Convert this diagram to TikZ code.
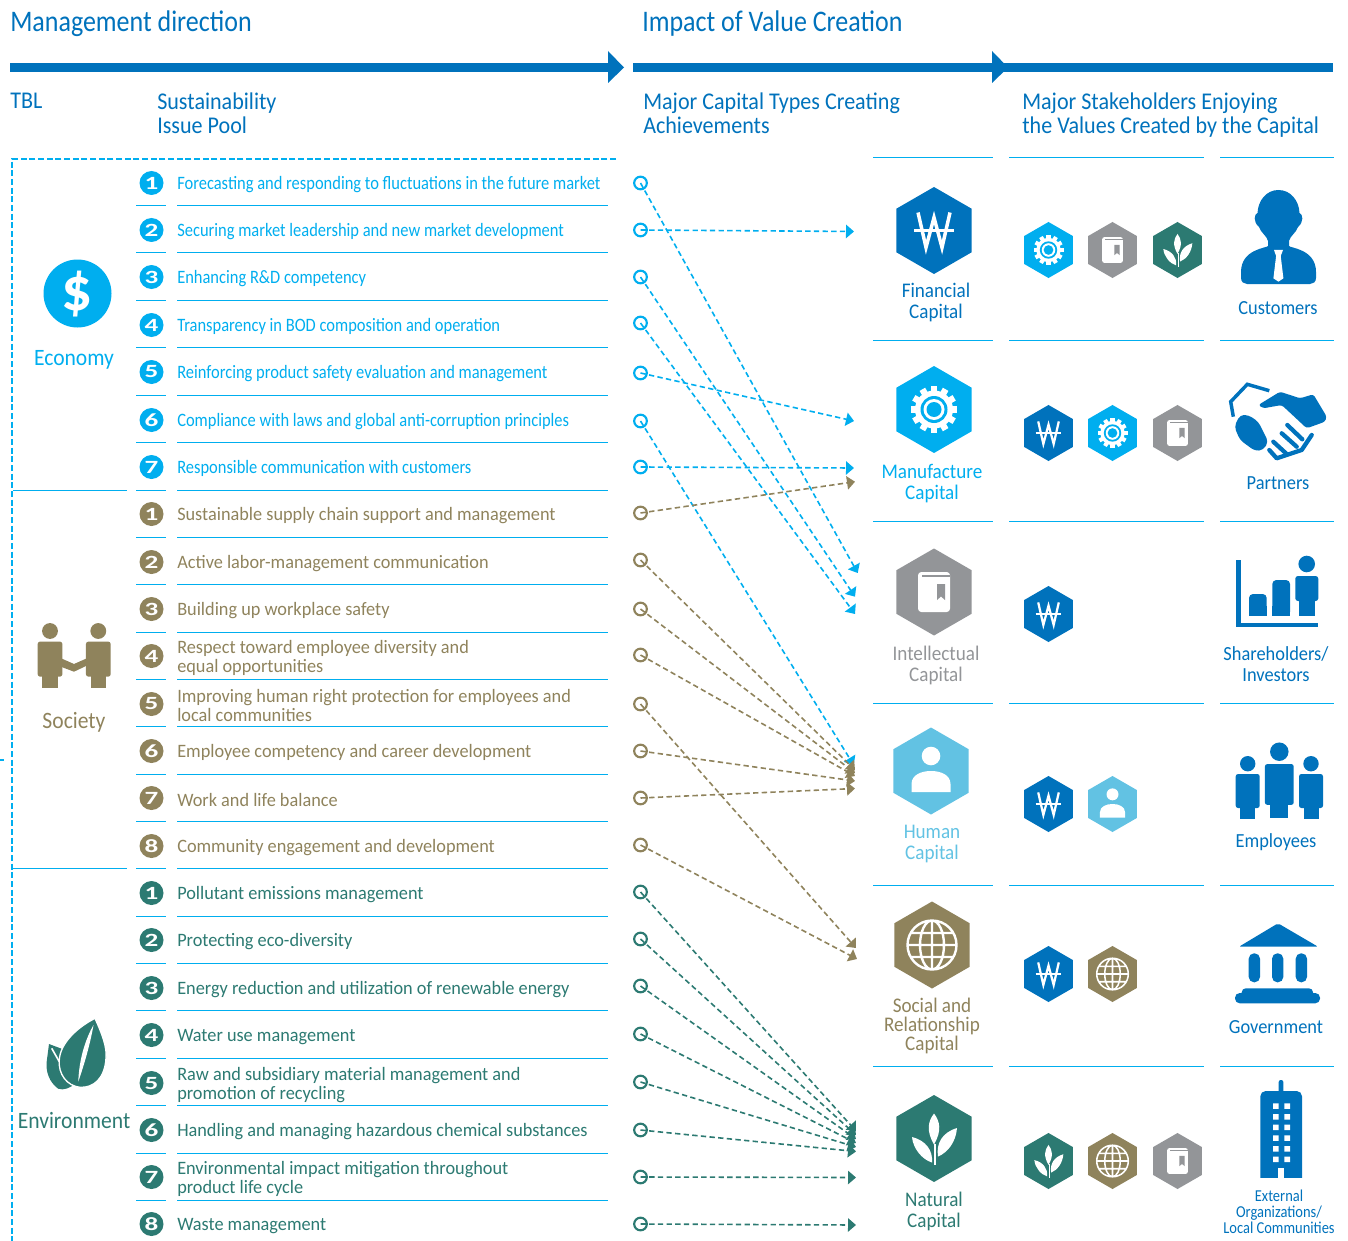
\documentclass[tikz,border=0pt]{standalone}
\usepackage{fontspec}
\usepackage{tikz}
\usetikzlibrary{arrows.meta}
\setmainfont{Carlito}
\newfontfamily\labelfont[FakeStretch=.87]{Carlito}
\newfontfamily\widefont[FakeStretch=.965]{Carlito}
\newfontfamily\headfamily[FakeStretch=.92]{Carlito}
\newfontfamily\dotfont[FakeStretch=1.45]{Carlito}
\newcommand{\itemfont}{\labelfont\fontsize{14.2}{14.3}\selectfont}
\newcommand{\wideitem}{\widefont\fontsize{14.2}{14.3}\selectfont}
\newcommand{\headfont}{\headfamily\fontsize{18}{18}\selectfont}
\newcommand{\titlefont}{\labelfont\fontsize{22.4}{24}\selectfont}
\newcommand{\capfont}{\headfamily\fontsize{15.6}{15.75}\selectfont}
\newcommand{\tblfont}{\headfamily\fontsize{17.6}{16}\selectfont}
\newcommand{\holderfont}{\headfamily\fontsize{15}{15.75}\selectfont}
\newcommand{\smallfont}{\labelfont\fontsize{12.5}{12}\selectfont}
\definecolor{capblue}{RGB}{0,114,188}
\definecolor{econ}{RGB}{0,174,239}
\definecolor{soc}{RGB}{143,131,92}
\definecolor{env}{RGB}{44,122,114}
\definecolor{capgray}{RGB}{147,149,152}
\definecolor{hum}{RGB}{98,194,227}
\tikzset{
  rule/.style={econ,line width=.75pt},
  boxdash/.style={econ,line width=1.7pt,dash pattern=on 4.5pt off 2pt},
  numdot/.style={circle,inner sep=0pt,minimum size=18pt,text=white,font=\dotfont\bfseries\fontsize{14}{14}\selectfont},
  itemtext/.style={anchor=west,inner sep=0pt,align=left,font=\itemfont},
  ring/.style={circle,draw,line width=1.6pt,inner sep=0pt,minimum size=9.5pt},
  link/.style={line width=1.2pt,dash pattern=on 4pt off 2.5pt,-{Triangle[length=6pt,width=10pt]}},
  head/.style={anchor=north west,inner sep=0pt,align=left,capblue,font=\headfont},
  caplabel/.style={inner sep=0pt,align=center,font=\capfont},
}
\def\hexpath{(0,-43.5) -- (37.7,-21.75) -- (37.7,21.75) -- (0,43.5) -- (-37.7,21.75) -- (-37.7,-21.75) -- cycle}
\newcommand{\wonhex}[3]{\begin{scope}[shift={(#1,#2)},scale=#3]
  \fill[capblue] \hexpath;
  \draw[white,line width=#3*2.6pt] (-16,-18) -- (-8,17) -- (0,-13) -- (8,17) -- (16,-18);
  \draw[white,line width=#3*1.8pt] (-20,0) -- (20,0);
\end{scope}}
\newcommand{\gearhex}[3]{\begin{scope}[shift={(#1,#2)},scale=#3]
  \fill[econ] \hexpath;
  \foreach \a in {0,30,...,330} \fill[white,rotate=\a] (-3.2,-23.3) rectangle (3.2,-17);
  \fill[white] (0,0) circle (19);
  \fill[econ] (0,0) circle (13.5);
  \fill[white] (0,0) circle (10.5);
  \fill[econ] (0,0) circle (7.5);
\end{scope}}
\newcommand{\bookhex}[3]{\begin{scope}[shift={(#1,#2)},scale=#3]
  \fill[capgray] \hexpath;
  \fill[white,rounded corners=#3*2.5pt] (-16,-20) -- (16,-20) -- (16,20) -- (-16,20) -- cycle;
  \fill[capgray] (-12,-17.5) rectangle (16,-15.5);
  \fill[capgray] (3,-8) -- (11,-8) -- (11,8) -- (7,4.5) -- (3,8) -- cycle;
\end{scope}}
\newcommand{\leafhex}[3]{\begin{scope}[shift={(#1,#2)},scale=#3]
  \fill[env] \hexpath;
  \fill[white] (0,-25) .. controls (6,-17) and (8,-8) .. (0,6) .. controls (-8,-8) and (-6,-17) .. (0,-25) -- cycle;
  \fill[white] (23,-10.5) .. controls (22,3) and (14,14) .. (4,18) .. controls (2,5) and (8,-6) .. (23,-10.5) -- cycle;
  \fill[white] (-22,-1.5) .. controls (-21,10) and (-12,21) .. (-2,24) .. controls (-1,12) and (-8,2) .. (-22,-1.5) -- cycle;
  \draw[white,line width=#3*1.5pt] (1,5) -- (1,26);
\end{scope}}
\newcommand{\humanhex}[3]{\begin{scope}[shift={(#1,#2)},scale=#3]
  \fill[hum] \hexpath;
  \fill[white] (0,-15) circle (9.3);
  \fill[white] (-19.5,21) -- (-19.5,13) .. controls (-19.5,4) and (-10,0) .. (0,0) .. controls (10,0) and (19.5,4) .. (19.5,13) -- (19.5,21) -- cycle;
\end{scope}}
\newcommand{\globehex}[3]{\begin{scope}[shift={(#1,#2)},scale=#3]
  \fill[soc] \hexpath;
  \draw[white,line width=#3*1.8pt] (0,0) circle (24.5) (0,0) ellipse (12 and 24.5) (0,-24.5) -- (0,24.5) (-24.5,0) -- (24.5,0) (-21,-12) -- (21,-12) (-21,12) -- (21,12);
\end{scope}}
\newcommand{\persona}[4]{\begin{scope}[shift={(#1,#2)},scale=#3]
  \fill[#4] (0,0) circle (7.7);
  \fill[#4,rounded corners=1.8pt] (-12,10.3) rectangle (12,44.3);
  \fill[#4] (-7.5,40) rectangle (7.5,55.3);
\end{scope}}

\begin{document}
\begin{tikzpicture}[x=.75pt,y=-.75pt]
  \useasboundingbox (0,0) rectangle (1348,1241);

  % top bars
  \fill[capblue] (10,63) rectangle (608,72);
  \fill[capblue] (608,51) -- (624,67.5) -- (608,83) -- cycle;
  \fill[capblue] (633,63) rectangle (1333,72);
  \fill[capblue] (992,51) -- (1008,67.5) -- (992,83) -- cycle;
  \node[anchor=west,inner sep=0pt,capblue,font=\titlefont] (mgmt) at (10,23.5) {Management direction};
  \node[anchor=west,inner sep=0pt,capblue,font=\titlefont] (impact) at (642,23.5) {Impact of Value Creation};
  \node[head] (tbl) at (10,93) {TBL};
  \node[head] (pool) at (157,93) {Sustainability\\Issue Pool};
  \node[head] (types) at (643,93) {Major Capital Types Creating\\Achievements};
  \node[head] (holders) at (1022,93) {Major Stakeholders Enjoying\\the Values Created by the Capital};

  % dashed frame and rules
  \draw[boxdash] (616,159) -- (12,159) -- (12,1241);
  \draw[boxdash] (0,760) -- (3.5,760);
  \draw[rule] (13,490) -- (127,490) (13,868.5) -- (127,868.5);
  \foreach \y in {206,253,300,347.5,395,442,490,537,584,632,679,726,774,821,868.5,916,963,1010,1058,1105,1153,1200}
    \draw[rule] (136,\y) -- (166,\y) (177,\y) -- (608,\y);
  \foreach \y in {158,340,521,703,885,1066}
    \draw[rule] (873,\y) -- (993,\y) (1009,\y) -- (1204,\y) (1220,\y) -- (1334,\y);

  % issue pool
  \foreach \rowy/\rownum/\rowtext in {
    183/1/{Forecasting and responding to fluctuations in the future market},
    230/2/{Securing market leadership and new market development},
    277/3/{Enhancing R\&D competency},
    325/4/{Transparency in BOD composition and operation},
    372/5/{Reinforcing product safety evaluation and management},
    420/6/{Compliance with laws and global anti-corruption principles},
    467/7/{Responsible communication with customers}} {
    \node[numdot,fill=econ] (econdot\rownum) at (151.5,\rowy) {\rownum};
    \node[itemtext,econ] (econitem\rownum) at (177,\rowy+1.7) {\rowtext};
  }
  \foreach \rowy/\rownum/\rowtext in {
    514/1/{Sustainable supply chain support and management},
    562/2/{Active labor-management communication},
    609/3/{Building up workplace safety},
    656/4/{Respect toward employee diversity and\\equal opportunities},
    704/5/{Improving human right protection for employees and\\local communities},
    751/6/{Employee competency and career development},
    798/7/{Work and life balance},
    846/8/{Community engagement and development}} {
    \node[numdot,fill=soc] (socdot\rownum) at (151.5,\rowy) {\rownum};
    \node[itemtext,soc,font=\wideitem] (socitem\rownum) at (177,\rowy+1.7) {\rowtext};
  }
  \foreach \rowy/\rownum/\rowtext in {
    893/1/{Pollutant emissions management},
    940/2/{Protecting eco-diversity},
    988/3/{Energy reduction and utilization of renewable energy},
    1035/4/{Water use management},
    1083/5/{Raw and subsidiary material management and\\promotion of recycling},
    1130/6/{Handling and managing hazardous chemical substances},
    1177/7/{Environmental impact mitigation throughout\\product life cycle},
    1224/8/{Waste management}} {
    \node[numdot,fill=env] (envdot\rownum) at (151.5,\rowy) {\rownum};
    \node[itemtext,env,font=\wideitem] (envitem\rownum) at (177,\rowy+1.7) {\rowtext};
  }

  % TBL column
  \fill[econ] (77.5,293.5) circle (34);
  \node[inner sep=0pt,white,font=\bfseries\fontsize{46}{46}\selectfont] (dollar) at (77,294) {\$};
  \node[caplabel,econ,font=\tblfont] (economy) at (74,360) {Economy};
  \persona{50}{631}{1.03}{soc}
  \persona{98.3}{631}{1.03}{soc}
  \fill[soc] (62,658.7) -- (74,664) -- (86,658.7) -- (86,666) -- (74,671.7) -- (59,666) -- cycle;
  \node[caplabel,soc,font=\tblfont] (society) at (74,722) {Society};
  \fill[env] (49,1044) -- (62.3,1049) -- (70,1075) -- (72,1086) .. controls (66,1090) and (58,1091) .. (55,1086) .. controls (47,1078) and (46,1068) .. (46.7,1061.7) -- cycle;
  \draw[white,line width=1.2pt] (51.7,1048.3) -- (59.3,1061.7);
  \fill[env,draw=white,line width=1pt] (95,1018.3) .. controls (103,1036) and (107,1048) .. (106,1058) .. controls (105,1078) and (94,1088) .. (80,1087.3) .. controls (67,1086) and (58,1074) .. (59.3,1060) .. controls (60,1044) and (76,1028) .. (95,1018.3) -- cycle;
  \fill[white] (93.5,1025) .. controls (90,1045) and (84,1065) .. (78.3,1081.7) .. controls (79,1060) and (85,1040) .. (93.5,1025) -- cycle;
  \node[caplabel,env,font=\tblfont] (environment) at (74,1120) {Environment};

  % start rings
  \foreach \n/\y in {1/183,2/230,3/277,4/323,5/373,6/421,7/467}
    \node[ring,econ] (econring\n) at (640.5,\y) {};
  \foreach \n/\y in {1/513,2/560,3/609,4/655,5/704,6/751,7/798,8/845}
    \node[ring,soc] (socring\n) at (640.5,\y) {};
  \foreach \n/\y in {1/892,2/939,3/986,4/1034,5/1082,6/1130,7/1177,8/1224}
    \node[ring,env] (envring\n) at (640.5,\y) {};

  % arrow ends
  \foreach \n/\x/\y in {1/857.7/573,2/854/231.5,3/855/596.7,4/855/614,5/854/421,6/853.7/765,7/854/468}
    \coordinate (econend\n) at (\x,\y);
  \foreach \n/\x/\y in {1/855/481.7,2/855/770,3/855/773,4/855/776,5/856/948,6/855/781,7/855/788.5,8/857/959}
    \coordinate (socend\n) at (\x,\y);
  \foreach \n/\x/\y in {1/856/1131,2/856/1135,3/856/1139,4/856/1143,5/856/1147,6/856/1151.5,7/856/1177.5,8/856/1225}
    \coordinate (envend\n) at (\x,\y);
  \foreach \n in {1,...,7} \draw[link,econ] (econring\n.center) -- (econend\n);
  \foreach \n in {1,...,8} \draw[link,soc] (socring\n.center) -- (socend\n);
  \foreach \n in {1,...,8} \draw[link,env] (envring\n.center) -- (envend\n);

  % capitals
  \wonhex{934}{230.5}{1}
  \gearhex{934}{409.5}{1}
  \bookhex{934}{592}{1}
  \humanhex{931}{771}{1}
  \globehex{932}{945}{1}
  \leafhex{934}{1138.5}{1}
  \node[caplabel,capblue] (financial) at (936,302) {Financial\\Capital};
  \node[caplabel,econ] (manufacture) at (932,484) {Manufacture\\Capital};
  \node[caplabel,capgray] (intellectual) at (936,665) {Intellectual\\Capital};
  \node[caplabel,hum] (human) at (932,844) {Human\\Capital};
  \node[caplabel,soc,font=\headfamily\fontsize{15.6}{14}\selectfont] (social) at (932,1026) {Social and\\Relationship\\Capital};
  \node[caplabel,env] (natural) at (934,1211) {Natural\\Capital};

  % small hexagons
  \gearhex{1048.5}{250}{.644}
  \bookhex{1112.5}{250}{.644}
  \leafhex{1177.5}{250}{.644}
  \wonhex{1048.5}{433}{.644}
  \gearhex{1112.5}{433}{.644}
  \bookhex{1177.5}{433}{.644}
  \wonhex{1048.5}{614}{.644}
  \wonhex{1048.5}{804}{.644}
  \humanhex{1112.5}{804}{.644}
  \wonhex{1048.5}{974}{.644}
  \globehex{1112.5}{974}{.644}
  \leafhex{1048.5}{1161}{.644}
  \globehex{1112.5}{1161}{.644}
  \bookhex{1177.5}{1161}{.644}

  % customers
  \fill[capblue] (1278.4,190) .. controls (1291,190) and (1299,201) .. (1299.5,213) .. controls (1303,214) and (1304,222) .. (1298,227) .. controls (1296,233) and (1290,236) .. (1289,241) -- (1289,246) .. controls (1290,248) and (1316,249) .. (1316,272) -- (1316,278) .. controls (1316,282) and (1313,284) .. (1310,284) -- (1247,284) .. controls (1244,284) and (1241,282) .. (1241,278) -- (1241,272) .. controls (1241,249) and (1267,248) .. (1268,246) -- (1268,241) .. controls (1267,236) and (1261,233) .. (1259,227) .. controls (1253,222) and (1254,214) .. (1257.5,213) .. controls (1258,201) and (1266,190) .. (1278.4,190) -- cycle;
  \fill[white] (1274,250) -- (1283,250) -- (1280.7,256) -- (1283.4,278.3) -- (1278.4,281.7) -- (1273.4,278.3) -- (1276.1,256) -- cycle;
  \node[caplabel,capblue,font=\holderfont] (customers) at (1278,308) {Customers};

  % partners
  \draw[capblue,line width=2.6pt] (1233.3,416.7) -- (1230.7,401.7) -- (1247.3,384.3) -- (1269.3,390.7);
  \fill[capblue,rounded corners=2pt] (1258.3,405) -- (1280,391.7) -- (1300,398.3) -- (1313.3,394.3) -- (1326.7,416.7) -- (1325,421.7) -- (1306.7,428.3) -- (1281.7,405) -- (1263.3,408.3) -- cycle;
  \fill[capblue,rounded corners=3pt] (1240,415) -- (1248.3,415) -- (1258.3,421.7) -- (1268.3,441.7) -- (1263.3,450) -- (1255,451) -- (1240,440) -- (1234.3,426.7) -- cycle;
  \draw[capblue,line width=3.2pt,line cap=round] (1287.3,425) -- (1302.3,439.3) (1281.7,433.3) -- (1296.7,446.7) (1273.3,441.7) -- (1286.7,454);
  \draw[capblue,line width=3.2pt,line cap=round,line join=round] (1311.7,435) -- (1301.7,450) -- (1276.7,458.3) -- (1269.3,450);
  \node[caplabel,capblue,font=\holderfont] (partners) at (1278,483) {Partners};

  % shareholders
  \fill[capblue] (1236.3,560) rectangle (1241,627);
  \fill[capblue] (1236.3,622.7) rectangle (1318.3,627);
  \fill[capblue,rounded corners=3pt] (1249,615.7) |- (1266.7,594) |- cycle;
  \fill[capblue] (1249,606) rectangle (1266.7,615.7);
  \fill[capblue,rounded corners=3pt] (1272.3,615.7) |- (1290,580) |- cycle;
  \fill[capblue] (1272.3,606) rectangle (1290,615.7);
  \fill[capblue] (1306.7,564) circle (8.3);
  \fill[capblue,rounded corners=2pt] (1295.3,576) rectangle (1318.3,601);
  \fill[capblue] (1299.3,596) rectangle (1315,615.7);
  \node[caplabel,capblue,font=\holderfont] (investors) at (1276,664) {Shareholders/\\Investors};

  % employees
  \persona{1279.3}{751.7}{1.2}{capblue}
  \persona{1247.7}{763.7}{1}{capblue}
  \persona{1311}{763.7}{1}{capblue}
  \node[caplabel,capblue,font=\holderfont] (employees) at (1276,842) {Employees};

  % government
  \fill[capblue,rounded corners=1.5pt] (1239,946.7) -- (1278,923.3) -- (1318,946.7) -- cycle;
  \foreach \x in {1248.7,1272,1295.7}
    \fill[capblue,rounded corners=4pt] (\x,953.3) rectangle (\x+11.3,982.3);
  \fill[capblue,rounded corners=3pt] (1241.7,988.3) rectangle (1313,998);
  \fill[capblue,rounded corners=3.5pt] (1235,993) rectangle (1320,1003.3);
  \node[caplabel,capblue,font=\holderfont] (government) at (1276,1027) {Government};

  % external
  \fill[capblue,rounded corners=1.5pt] (1278.7,1080) rectangle (1283.3,1095);
  \fill[capblue,rounded corners=4pt] (1260.3,1091) rectangle (1302,1185);
  \fill[white] (1255,1177.7) rectangle (1307,1190);
  \foreach \y in {1103.3,1114,1124.5,1135.3,1146,1156.7}
    \fill[white] (1273,\y) rectangle (1278.7,\y+5.5) (1284.3,\y) rectangle (1290,\y+5.5);
  \fill[white] (1278,1167.7) rectangle (1284,1177.7);
  \node[caplabel,capblue,font=\smallfont] (external) at (1279,1212) {External\\Organizations/\\Local Communities};
\end{tikzpicture}
\end{document}
